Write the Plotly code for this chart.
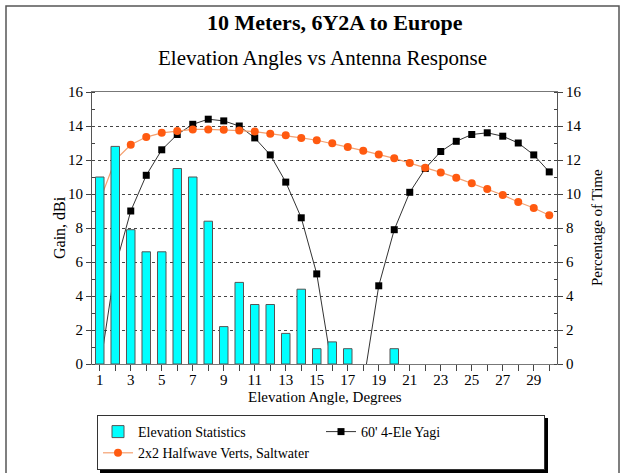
import plotly.graph_objects as go

angles = list(range(1, 31))
elev_stats = [11.0, 12.8, 7.9, 6.6, 6.6, 11.5, 11.0, 8.4, 2.2, 4.8, 3.5, 3.5, 1.8, 4.4, 0.9,
              1.3, 0.9, None, None, 0.9, None, None, None, None, None, None, None, None, None, None]
yagi = [-0.3, 5.7, 9.0, 11.1, 12.6, 13.5, 14.1, 14.4, 14.3, 14.0, 13.3, 12.3, 10.7, 8.6, 5.3,
        -0.3, -4.0, -1.2, 4.6, 7.9, 10.1, 11.5, 12.5, 13.1, 13.5, 13.6, 13.4, 13.0, 12.3, 11.3]
verts = [9.6, 12.0, 12.9, 13.35, 13.6, 13.7, 13.8, 13.8, 13.78, 13.73, 13.67, 13.55, 13.45, 13.3, 13.16,
         12.98, 12.76, 12.55, 12.33, 12.1, 11.82, 11.55, 11.27, 10.96, 10.63, 10.29, 9.94, 9.53, 9.18, 8.75]
x_tick_text = [str(a) if a % 2 == 1 else "" for a in angles]

FONT = "Liberation Serif"
W, H = 628, 473
L, R, T, B = 92, 71, 92, 109
PW, PH = W - L - R, H - T - B

def px(x):
    return (x - L) / PW

def py(y):
    return (H - B - y) / PH

fig = go.Figure()
fig.add_trace(go.Bar(x=angles, y=elev_stats, name="Elevation Statistics", yaxis="y2",
                     width=0.55, marker=dict(color="#00FFFF", line=dict(color="#555555", width=1))))
fig.add_trace(go.Scatter(x=angles, y=yagi, name="60' 4-Ele Yagi", mode="lines+markers",
                         line=dict(color="#333333", width=1),
                         marker=dict(symbol="square", size=7, color="black")))
fig.add_trace(go.Scatter(x=angles, y=verts, name="2x2 Halfwave Verts, Saltwater", mode="lines+markers",
                         line=dict(color="#F4A070", width=1.2),
                         marker=dict(symbol="circle", size=8, color="#FF5A10")))

axis_font = dict(family=FONT, size=15, color="black")
fig.update_layout(
    width=W, height=H,
    margin=dict(l=L, r=R, t=T, b=B, autoexpand=False),
    paper_bgcolor="white", plot_bgcolor="white",
    font=dict(family=FONT, color="black"),
    xaxis=dict(range=[0.5, 30.5], tickvals=angles, ticktext=x_tick_text, ticks="outside",
               ticklen=6, tickcolor="#444", showgrid=False, showline=True, linecolor="#777",
               mirror=True, tickfont=axis_font, zeroline=False, ticklabelstandoff=-4),
    yaxis=dict(range=[0, 16], dtick=2, ticks="outside", ticklen=5, tickcolor="#444",
               showline=True, linecolor="#555", showgrid=True, gridcolor="#444",
               griddash="3px,3px", gridwidth=1, zeroline=False, tickfont=axis_font,
               minor=dict(dtick=1, ticks="inside", ticklen=3, tickcolor="#444", showgrid=False)),
    yaxis2=dict(range=[0, 16], dtick=2, overlaying="y", side="right", ticks="outside", ticklen=5,
                tickcolor="#444", showline=True, linecolor="#555", showgrid=False, zeroline=False,
                tickfont=axis_font,
                minor=dict(dtick=1, ticks="inside", ticklen=3, tickcolor="#444", showgrid=False)),
    showlegend=True,
    legend=dict(orientation="h", x=px(97), y=py(415), xanchor="left", yanchor="top",
                entrywidth=178, bgcolor="white", bordercolor="#333", borderwidth=1,
                font=dict(family=FONT, size=14, color="black"), traceorder="normal"),
    bargap=0.45,
)

def note(text, x, y, size=15, angle=0):
    fig.add_annotation(text=text, x=px(x), y=py(y), xref="paper", yref="paper", textangle=angle,
                       showarrow=False, xanchor="center", yanchor="middle",
                       font=dict(family=FONT, size=size, color="black"))

note("<b>10 Meters, 6Y2A to Europe</b>", 335, 22, size=22)
note("Elevation Angles vs Antenna Response", 322, 58, size=21)
note("Gain, dBi", 59, 228, size=16, angle=-90)
note("Percentage of Time", 597, 228, angle=-90)
note("Elevation Angle, Degrees", 325, 397)

# outer frame
fig.add_shape(type="rect", xref="paper", yref="paper", x0=px(6), x1=px(619), y0=py(490), y1=py(6),
              line=dict(color="#555555", width=1.5), layer="below")
# legend shadow
fig.add_shape(type="rect", xref="paper", yref="paper", x0=px(100), x1=px(548), y0=py(474), y1=py(418),
              line=dict(width=0), fillcolor="black", layer="above")

fig.write_html("out.html", config={"displayModeBar": False},
               post_script="document.body.style.margin='0';document.body.style.overflow='hidden';")
